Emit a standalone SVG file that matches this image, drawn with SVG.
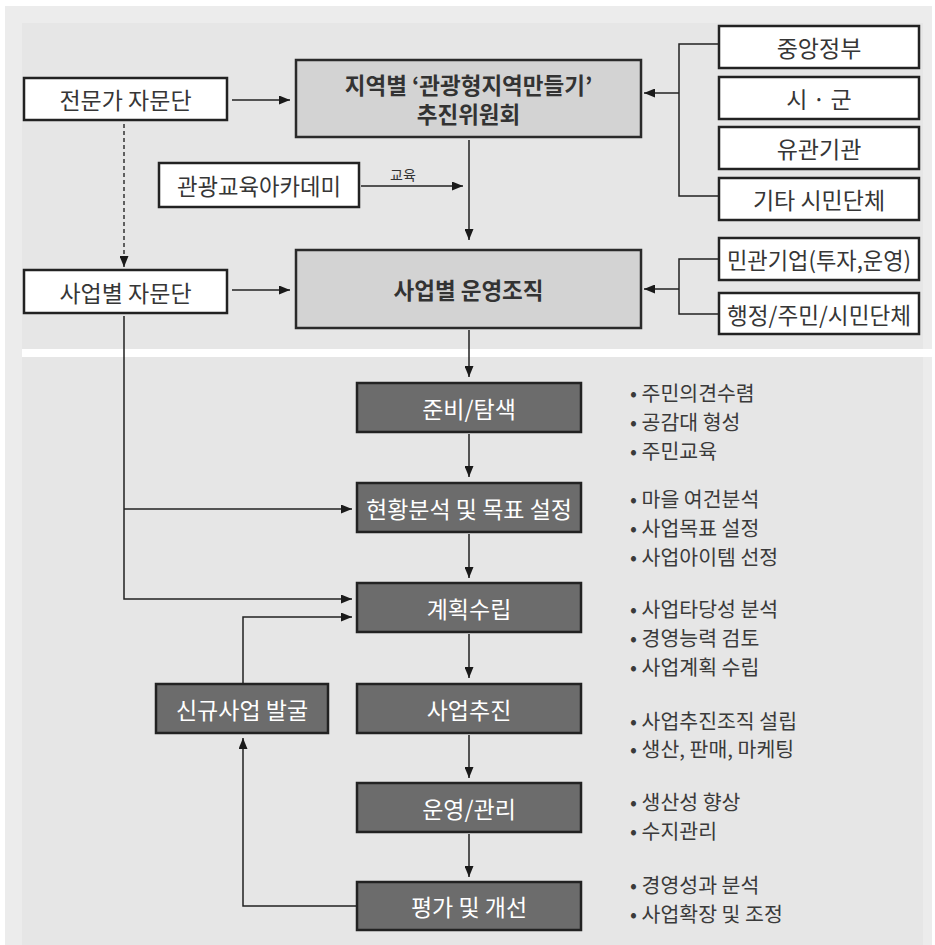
<svg xmlns="http://www.w3.org/2000/svg" width="935" height="945" viewBox="0 0 935 945">
  <style>
    .t { font-family: "Noto Sans CJK KR", "Noto Sans", sans-serif; text-anchor: middle; dominant-baseline: central; }
    .dk { fill: #363636; font-size: 23px; }
    .wt { fill: #ffffff; font-size: 23px; }
    .bd { fill: #333333; font-size: 22.5px; font-weight: 700; }
    .bl { font-family: "Noto Sans CJK KR", "Noto Sans", sans-serif; fill: #3a3a3a; font-size: 20.5px; dominant-baseline: central; }
    .wbox { fill: #ffffff; stroke: #222222; stroke-width: 2.5; }
    .gbox { fill: #d3d3d3; stroke: #2a2a2a; stroke-width: 2.5; }
    .dbox { fill: #6c6c6c; stroke: #222222; stroke-width: 2.5; }
    .ln { fill: none; stroke: #222222; stroke-width: 1.5; }
    .ar { fill: none; stroke: #222222; stroke-width: 1.5; marker-end: url(#arr); }
    .ds { fill: none; stroke: #333333; stroke-width: 1.5; stroke-dasharray: 4 3; marker-end: url(#arr); }
  </style>
  <defs>
    <marker id="arr" markerUnits="userSpaceOnUse" markerWidth="11" markerHeight="9" refX="11" refY="4.5" orient="auto">
      <path d="M0,0 L11,4.5 L0,9 z" fill="#1a1a1a"/>
    </marker>
  </defs>

  <!-- background -->
  <rect x="0" y="0" width="935" height="945" fill="#ffffff"/>
  <rect x="5" y="6" width="927" height="939" fill="#ececec"/>
  <rect x="22" y="23" width="901" height="922" fill="#e6e6e6"/>
  <rect x="22" y="349" width="913" height="8" fill="#ffffff"/>

  <g id="connectors">
    <path class="ar" d="M232,100 H290"/>
    <path class="ar" d="M232,290 H290"/>
    <path class="ds" d="M124,124 V267"/>
    <path class="ar" d="M361,186 H463"/>
    <path class="ar" d="M469,140 V240"/>
    <path class="ln" d="M719,44 H679 V196 H719"/>
    <path class="ar" d="M679,93 H644"/>
    <path class="ln" d="M719,259 H679 V314 H719"/>
    <path class="ar" d="M679,289 H644"/>
    <path class="ar" d="M469,330 V377"/>
    <path class="ar" d="M469,434 V477"/>
    <path class="ar" d="M469,534 V578"/>
    <path class="ar" d="M469,634 V678"/>
    <path class="ar" d="M469,735 V778"/>
    <path class="ar" d="M469,834 V877"/>
    <path class="ar" d="M124,316 V599 H352"/>
    <path class="ar" d="M124,509 H352"/>
    <path class="ar" d="M243,684 V617 H352"/>
    <path class="ar" d="M357,906 H243 V738"/>
    <text class="t" x="403" y="174" style="font-size:14px; fill:#333333;">교육</text>
  </g>

  <g id="n-expert">
    <rect class="wbox" x="24" y="78" width="203" height="42"/>
    <text class="t dk" x="125.5" y="99">전문가 자문단</text>
  </g>
  <g id="n-committee">
    <rect class="gbox" x="296" y="60" width="345" height="77"/>
    <text class="t bd" x="468.5" y="84">지역별 ‘관광형지역만들기’</text>
    <text class="t bd" x="468.5" y="113">추진위원회</text>
  </g>
  <g id="n-academy">
    <rect class="wbox" x="159" y="163" width="200" height="44"/>
    <text class="t dk" x="259" y="185" textLength="164" lengthAdjust="spacingAndGlyphs">관광교육아카데미</text>
  </g>
  <g id="n-proj-advisory">
    <rect class="wbox" x="24" y="270" width="203" height="43"/>
    <text class="t dk" x="125.5" y="291.5">사업별 자문단</text>
  </g>
  <g id="n-operation">
    <rect class="gbox" x="296" y="250" width="345" height="78"/>
    <text class="t bd" x="468.5" y="289">사업별 운영조직</text>
  </g>
  <g id="n-central">
    <rect class="wbox" x="719" y="26" width="200" height="42"/>
    <text class="t dk" x="819" y="47">중앙정부</text>
  </g>
  <g id="n-sigun">
    <rect class="wbox" x="719" y="77" width="200" height="42"/>
    <text class="t dk" x="819" y="98">시 · 군</text>
  </g>
  <g id="n-related">
    <rect class="wbox" x="719" y="127" width="200" height="42"/>
    <text class="t dk" x="819" y="148">유관기관</text>
  </g>
  <g id="n-civic">
    <rect class="wbox" x="719" y="178" width="200" height="42"/>
    <text class="t dk" x="819" y="199">기타 시민단체</text>
  </g>
  <g id="n-private">
    <rect class="wbox" x="719" y="238" width="200" height="42"/>
    <text class="t dk" x="819" y="259" textLength="184" lengthAdjust="spacingAndGlyphs">민관기업(투자,운영)</text>
  </g>
  <g id="n-admin">
    <rect class="wbox" x="719" y="293" width="200" height="41"/>
    <text class="t dk" x="819" y="313.5" textLength="184" lengthAdjust="spacingAndGlyphs">행정/주민/시민단체</text>
  </g>

  <g id="n-prep">
    <rect class="dbox" x="357" y="383" width="224" height="49"/>
    <text class="t wt" x="469" y="407.5">준비/탐색</text>
  </g>
  <g id="n-analysis">
    <rect class="dbox" x="357" y="483" width="224" height="49"/>
    <text class="t wt" x="469" y="507.5" textLength="206" lengthAdjust="spacingAndGlyphs">현황분석 및 목표 설정</text>
  </g>
  <g id="n-plan">
    <rect class="dbox" x="357" y="583" width="224" height="49"/>
    <text class="t wt" x="469" y="607.5">계획수립</text>
  </g>
  <g id="n-execute">
    <rect class="dbox" x="357" y="684" width="224" height="49"/>
    <text class="t wt" x="469" y="708.5">사업추진</text>
  </g>
  <g id="n-manage">
    <rect class="dbox" x="357" y="783" width="224" height="49"/>
    <text class="t wt" x="469" y="807.5">운영/관리</text>
  </g>
  <g id="n-evaluate">
    <rect class="dbox" x="357" y="882" width="224" height="48"/>
    <text class="t wt" x="469" y="906">평가 및 개선</text>
  </g>
  <g id="n-new">
    <rect class="dbox" x="156" y="684" width="172" height="49"/>
    <text class="t wt" x="242" y="708.5">신규사업 발굴</text>
  </g>

  <g id="notes">
    <text class="bl" x="630" y="392">• 주민의견수렴</text>
    <text class="bl" x="630" y="421">• 공감대 형성</text>
    <text class="bl" x="630" y="450">• 주민교육</text>
    <text class="bl" x="630" y="498">• 마을 여건분석</text>
    <text class="bl" x="630" y="527">• 사업목표 설정</text>
    <text class="bl" x="630" y="556">• 사업아이템 선정</text>
    <text class="bl" x="630" y="608">• 사업타당성 분석</text>
    <text class="bl" x="630" y="637">• 경영능력 검토</text>
    <text class="bl" x="630" y="666">• 사업계획 수립</text>
    <text class="bl" x="630" y="720">• 사업추진조직 설립</text>
    <text class="bl" x="630" y="748">• 생산, 판매, 마케팅</text>
    <text class="bl" x="630" y="801">• 생산성 향상</text>
    <text class="bl" x="630" y="830">• 수지관리</text>
    <text class="bl" x="630" y="884">• 경영성과 분석</text>
    <text class="bl" x="630" y="913">• 사업확장 및 조정</text>
  </g>
</svg>
